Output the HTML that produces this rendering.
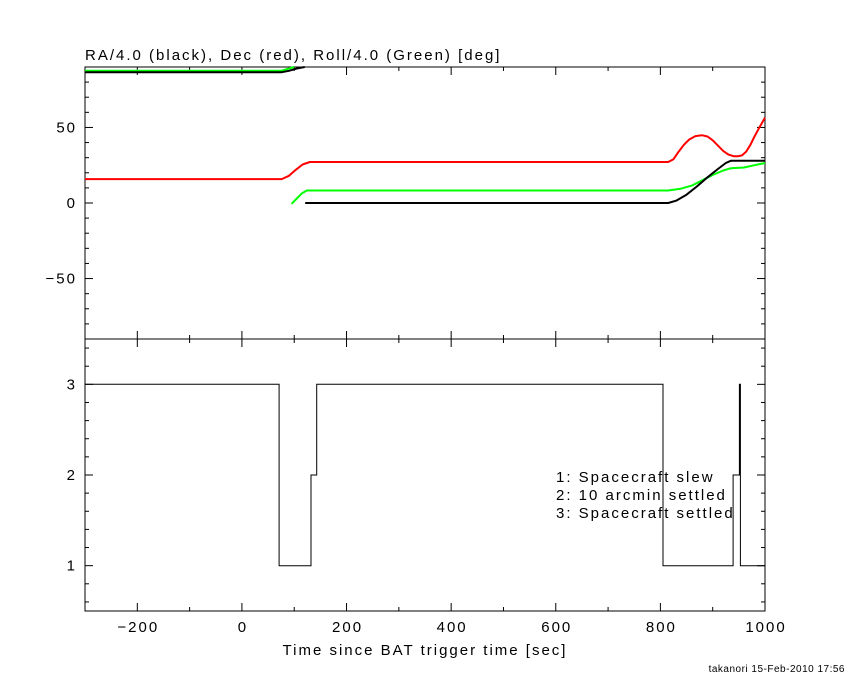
<!DOCTYPE html>
<html><head><meta charset="utf-8"><style>
body{margin:0;background:#fff}
svg{display:block;font-family:"Liberation Sans",sans-serif}
text{font-size:15px;fill:#000;letter-spacing:2px}
</style></head><body>
<svg id="c" width="850" height="680" xmlns="http://www.w3.org/2000/svg">
<text x="85" y="60">RA/4.0 (black), Dec (red), Roll/4.0 (Green) [deg]</text>
<text x="425" y="655" text-anchor="middle">Time since BAT trigger time [sec]</text>
<text x="845" y="672" text-anchor="end" style="font-size:10px;letter-spacing:0.5px">takanori 15-Feb-2010 17:56</text>
<g>
<text x="556" y="482">1: Spacecraft slew</text>
<text x="556" y="500">2: 10 arcmin settled</text>
<text x="556" y="518">3: Spacecraft settled</text>
</g>
</svg>
<script>
const raT=[121,815,830,850,870,890,910,925,935,1000];
const raV=[0,0,1.5,5.5,11,17,22.5,26.5,28,28];
const raPreT=[-300,75,90,105,120];
const raPreV=[86.5,86.5,87.5,89,90];
const decT=[-300,76,90,103,116,130,815,825,835,845,855,867,879,890,900,910,920,930,940,948,956,964,972,980,990,1000];
const decV=[15.8,15.8,18,22,25.5,27.1,27.1,29,34,38.5,42,44.3,44.9,44,41.5,38,34.5,32,31,30.9,31.5,34,38.5,44,50.5,56.5];
const rollT=[95,105,115,124,815,840,860,880,900,920,935,960,980,1000];
const rollV=[-0.5,3,6.5,8.3,8.3,9.5,11.5,15,18.5,21.5,23,23.5,25,26.5];
const rollPreT=[-300,75,90,100];
const rollPreV=[87.5,87.5,89,90];
const stT=[-300,71,71,132,132,143,143,805,805,939,939,951,951,953,953,1000];
const stV=[3,3,1,1,2,2,3,3,1,1,2,2,3,3,1,1];
const xTicks=[-200,0,200,400,600,800,1000];
const topTicks=[-50,0,50];
const botTicks=[1,2,3];

const svg=document.getElementById('c');
const NS='http://www.w3.org/2000/svg';
const X0=85,X1=765,T0=67,T1=339,B1=611;
const xs=t=>X0+(t+300)/1300*(X1-X0);
const ytop=v=>T0+(90-v)/180*(T1-T0);
const ybot=v=>T1+(3.5-v)/3*(B1-T1);
function el(tag,a){const e=document.createElementNS(NS,tag);for(const k in a)e.setAttribute(k,a[k]);svg.appendChild(e);return e;}
function ln(x1,y1,x2,y2){return el('line',{x1,y1,x2,y2,stroke:'#000','stroke-width':1});}
const f1=el('rect',{x:X0,y:T0,width:X1-X0,height:T1-T0,fill:'none',stroke:'#000'});


const f2=el('rect',{x:X0,y:T1,width:X1-X0,height:B1-T1,fill:'none',stroke:'#000'});


for(let t=-300;t<=1000;t+=100){const L=(t%200===0)?8:4;const x=xs(t);
 for(const [yb,yt] of [[B1,T1],[T1,T0]]){ln(x,yb,x,yb-L);ln(x,yt,x,yt+L);}}
xTicks.forEach(t=>{const e=el('text',{x:xs(t)+1,y:632,'text-anchor':'middle'});e.textContent=t===0?'0':(t<0?'\u2212'+(-t):t);

});
for(let v=-80;v<=90;v+=10){const L=(v%50===0)?8:4;const y=ytop(v);ln(X0,y,X0+L,y);ln(X1,y,X1-L,y);}
topTicks.forEach(v=>{const e=el('text',{x:77,y:ytop(v)+5,'text-anchor':'end'});e.textContent=v<0?'\u2212'+(-v):v;

});
for(let i=3;i<=17;i++){const v=i*0.2;const L=(Math.abs(v-Math.round(v))<1e-6)?8:4;const y=ybot(v);ln(X0,y,X0+L,y);ln(X1,y,X1-L,y);}
botTicks.forEach(v=>{const e=el('text',{x:77,y:ybot(v)+5,'text-anchor':'end'});e.textContent=v;

});
function series(T,V,col,name,yf){const p=T.map((t,i)=>xs(t).toFixed(1)+','+yf(V[i]).toFixed(1)).join(' ');
 const e=el('polyline',{points:p,fill:'none',stroke:col,'stroke-width':2,'stroke-linejoin':'round'});
 
 }
series(rollPreT,rollPreV,'#00ff00','roll-line-pre',ytop);
series(raPreT,raPreV,'#000','ra-line-pre',ytop);
series(decT,decV,'#ff0000','dec-line',ytop);
series(rollT,rollV,'#00ff00','roll-line',ytop);
series(raT,raV,'#000','ra-line',ytop);
const sp=stT.map((t,i)=>xs(t).toFixed(1)+','+ybot(stV[i]).toFixed(1)).join(' ');
const s=el('polyline',{points:sp,fill:'none',stroke:'#000','stroke-width':1});


</script>
</body></html>
